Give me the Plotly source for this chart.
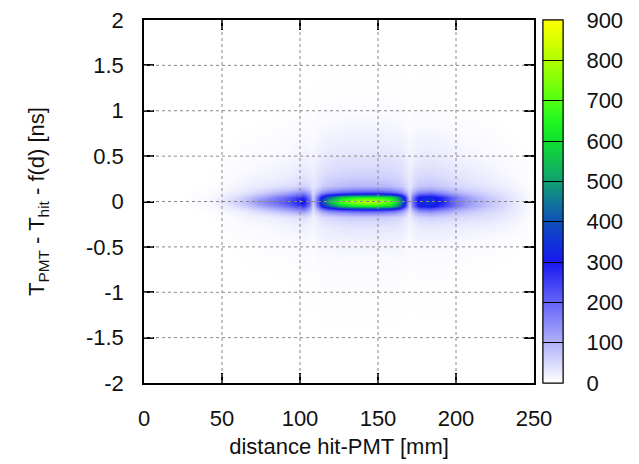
import plotly.graph_objects as go

# x bin edges [mm] and y bin edges [ns]
x_edges = [30, 40, 50, 60, 70, 80, 90, 98, 106, 110, 114, 122, 130, 138, 146, 154, 162, 168, 172, 180, 188, 196, 205, 215, 225, 235, 245, 250]
y_edges = [-2, -1.1, -0.7, -0.5, -0.35, -0.22, -0.13, -0.07, -0.03, 0.03, 0.07, 0.13, 0.22, 0.35, 0.5, 0.7, 0.9, 1.1, 2]

# counts per bin, rows from bottom (y=-2) to top (y=2)
row_m155 = [0]*27
row_m085 = [0,0,0,0,0,0,1,2,1,2,3,3,3,3,3,3,3,1,2,2,2,1,0,0,0,0,0]
row_m060 = [0,0,0,1,2,3,3,5,3,6,8,9,9,9,9,9,8,3,6,6,6,4,3,2,1,0,0]
row_m0425 = [0,0,1,3,4,6,7,10,6,12,16,18,19,19,19,18,16,6,14,15,14,11,8,7,4,2,0]
row_m0285 = [0,0,3,6,8,11,14,19,11,19,27,32,34,34,34,32,27,11,27,29,27,24,21,19,14,8,1]
row_m0175 = [0,1,6,13,18,26,34,45,19,35,52,62,68,68,68,62,50,19,55,62,56,50,44,38,30,16,4]
row_m010 = [2,5,15,30,55,85,115,150,35,100,170,200,220,230,230,210,150,35,150,170,140,100,75,55,40,20,5]
row_m005 = [3,10,30,60,105,150,200,260,50,210,400,540,600,620,620,580,380,50,300,320,250,170,110,75,48,22,5]
row_000 = [5,15,42,80,145,195,245,320,60,260,520,700,780,820,800,720,460,60,330,350,280,180,120,80,50,22,5]
row_p005 = [3,10,32,62,110,160,210,270,55,220,420,560,620,640,640,600,400,55,310,330,260,170,105,70,45,20,5]
row_p010 = [2,6,18,35,60,90,120,160,45,115,180,210,230,240,240,220,160,45,160,175,140,100,70,50,34,16,4]
row_p0175 = [0,2,10,20,28,36,45,60,31,50,75,88,94,94,94,88,69,31,72,78,66,52,42,32,22,10,2]
row_p0285 = [0,1,5,10,15,19,25,35,22,35,50,56,60,60,60,56,48,22,48,50,44,35,28,20,12,6,1]
row_p0425 = [0,0,3,5,8,11,15,22,15,25,35,40,42,42,42,40,35,15,32,35,30,22,18,12,8,4,0]
row_p060 = [0,0,1,3,4,6,9,13,9,15,22,25,27,27,27,25,22,10,20,21,18,13,9,6,4,1,0]
row_p080 = [0,0,0,0,1,3,4,6,5,8,11,13,14,14,14,13,11,5,10,10,8,5,4,3,1,0,0]
row_p100 = [0,0,0,0,0,0,1,2,1,3,4,5,5,5,5,5,4,1,4,4,3,1,1,0,0,0,0]
row_p155 = [0]*27

z = [row_m155, row_m085, row_m060, row_m0425, row_m0285, row_m0175, row_m010, row_m005,
     row_000, row_p005, row_p010, row_p0175, row_p0285, row_p0425, row_p060, row_p080,
     row_p100, row_p155]

x_ticks = [0, 50, 100, 150, 200, 250]
x_labels = ["0", "50", "100", "150", "200", "250"]
y_ticks = [-2, -1.5, -1, -0.5, 0, 0.5, 1, 1.5, 2]
y_labels = ["-2", "-1.5", "-1", "-0.5", "0", "0.5", "1", "1.5", "2"]
cb_ticks = [0, 100, 200, 300, 400, 500, 600, 700, 800, 900]
z_max = 900

colorscale = [
    [0.0, "#ffffff"],
    [100/900, "#b0b0fa"],
    [200/900, "#6464f8"],
    [300/900, "#1818f0"],
    [350/900, "#1034d8"],
    [400/900, "#1050b8"],
    [450/900, "#107898"],
    [500/900, "#10a070"],
    [550/900, "#10c050"],
    [600/900, "#10e030"],
    [650/900, "#20f820"],
    [700/900, "#50ff10"],
    [800/900, "#b0ff00"],
    [1.0, "#ffff00"],
]

W, H = 639, 464
M = dict(l=144, r=105, t=20, b=81)
cb_x = 1.023
cb_thick = 20
cb_common = dict(
    x=cb_x, xanchor="left", y=0.5, yanchor="middle",
    len=1, lenmode="fraction", thickness=cb_thick, thicknessmode="pixels",
    outlinecolor="black", outlinewidth=1, tickvals=cb_ticks,
    xpad=0, ypad=0, ticklabeloverflow="allow",
    tickfont=dict(size=22, color="#111"),
)

fig = go.Figure()
# visible histogram; its colour bar carries the labels (pushed out by invisible ticks)
fig.add_trace(go.Heatmap(
    x=x_edges, y=y_edges, z=z,
    zmin=0, zmax=z_max, zsmooth="best", colorscale=colorscale,
    colorbar=dict(ticks="outside", ticklen=19, tickcolor="rgba(0,0,0,0)", **cb_common),
))
# same histogram, invisible; its colour bar draws the black separators on top
fig.add_trace(go.Heatmap(
    x=x_edges, y=y_edges, z=z, opacity=0, hoverinfo="skip",
    zmin=0, zmax=z_max, zsmooth="best", colorscale=colorscale,
    colorbar=dict(ticks="inside", ticklen=cb_thick, tickcolor="black", tickwidth=1,
                  showticklabels=False, **cb_common),
))

# dotted grid drawn above the heatmap, from the tick arrays
grid_style = dict(color="#888888", width=1, dash="dot")
for xv in x_ticks[1:-1]:
    fig.add_shape(type="line", xref="x", yref="paper", x0=xv, x1=xv, y0=0, y1=1,
                  line=grid_style, layer="above")
for yv in y_ticks[1:-1]:
    fig.add_shape(type="line", xref="paper", yref="y", x0=0, x1=1, y0=yv, y1=yv,
                  line=grid_style, layer="above")

axis_common = dict(
    showline=True, linecolor="black", linewidth=1.5, mirror="ticks",
    ticks="inside", ticklen=10, tickwidth=2, tickcolor="black",
    showgrid=False, zeroline=False, automargin=False, ticklabeloverflow="allow",
    tickfont=dict(size=22, color="#111"), layer="above traces",
)

fig.update_layout(
    width=W, height=H,
    margin=M,
    paper_bgcolor="white", plot_bgcolor="white",
    font=dict(family="Liberation Sans, Arial, sans-serif", color="#111"),
    xaxis=dict(range=[0, 250], tickvals=x_ticks, ticktext=x_labels, ticklabelstandoff=15,
               title=dict(text="distance hit-PMT [mm]", font=dict(size=22), standoff=8),
               **axis_common),
    yaxis=dict(range=[-2, 2], tickvals=y_ticks, ticktext=y_labels, ticklabelstandoff=14,
               title=dict(text="T<sub>PMT</sub> - T<sub>hit</sub> - f(d) [ns]", font=dict(size=22), standoff=35),
               **axis_common),
)

fig.write_html("out.html", config={"displayModeBar": False},
               post_script="document.body.style.margin='0';")
